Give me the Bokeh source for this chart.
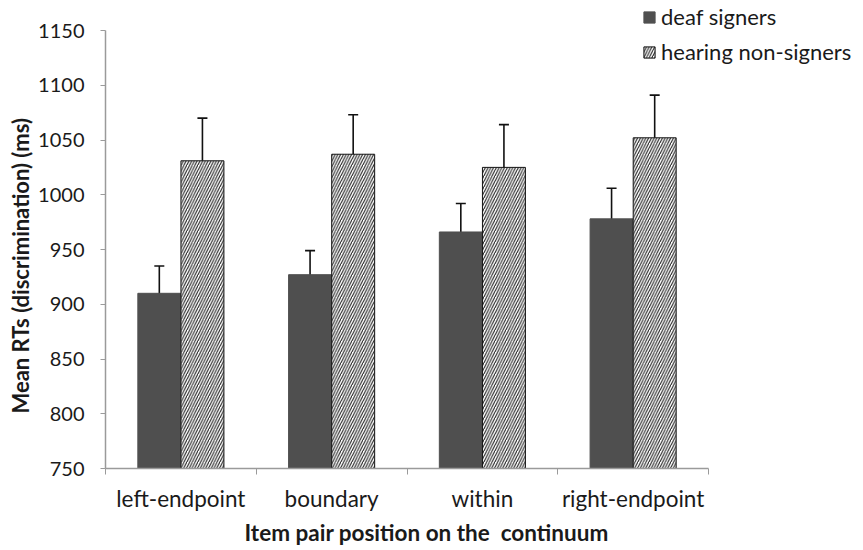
import numpy as np
from bokeh.plotting import figure
from bokeh.models import (ColumnDataSource, Whisker, TeeHead, FixedTicker,
                          Legend, LegendItem, Range1d, Title)
from bokeh.transform import dodge
from bokeh.embed import file_html
from bokeh.resources import INLINE

# ---- data ----
categories = ["left-endpoint", "boundary", "within", "right-endpoint"]
deaf_signers = [910, 927, 966, 978]
deaf_err = [25, 22, 26, 28]
hearing = [1031, 1037, 1025, 1052]
hearing_err = [39, 36, 39, 39]
y_ticks = [750, 800, 850, 900, 950, 1000, 1050, 1100, 1150]
x_title = "Item pair position on the \u00a0continuum"
y_title = "Mean RTs (discrimination) (ms)"

FONT = "Lato"
TXT = "#1a1a1a"
DARK = "#4f4f4f"
AXIS = "#9a9a9a"

n = len(categories)
xc = np.arange(n) + 0.5
d = np.array(deaf_signers, dtype=float)
de = np.array(deaf_err, dtype=float)
h = np.array(hearing, dtype=float)
he = np.array(hearing_err, dtype=float)

src = ColumnDataSource(dict(
    x=xc, deaf=d, deaf_hi=d + de, deaf_lo=d - de,
    hear=h, hear_hi=h + he, hear_lo=h - he,
))

# frame spans to the right/top edges so the legend (drawn in the frame) is not clipped;
# axes are limited to the data area with axis bounds
Y0, Y1 = y_ticks[0], y_ticks[-1]
y_top = Y0 + 468 / (438 / (Y1 - Y0))
x_end = 758 / (603 / n)

p = figure(width=863, height=550, output_backend="svg", toolbar_location=None,
           x_range=Range1d(0, x_end), y_range=Range1d(Y0, y_top),
           min_border_left=105, min_border_right=0,
           min_border_top=0, min_border_bottom=82)
p.outline_line_color = None
p.xgrid.grid_line_color = None
p.ygrid.grid_line_color = None
p.background_fill_color = "white"
p.border_fill_color = "white"

BW = 0.285
OFF = 0.143

r_deaf = p.vbar(x=dodge("x", -OFF), top="deaf", bottom=Y0, width=BW, source=src,
                fill_color=DARK, line_color=DARK)
r_hear = p.vbar(x=dodge("x", OFF), top="hear", bottom=Y0, width=BW, source=src,
                fill_color="white", line_color="#111111", line_width=1,
                hatch_pattern="/", hatch_color="#222222", hatch_scale=5.5,
                hatch_weight=1.1)

for base_off, up, lo in [(-OFF, "deaf_hi", "deaf_lo"), (OFF, "hear_hi", "hear_lo")]:
    w = Whisker(source=src, base=dodge("x", base_off), upper=up, lower=lo,
                line_color="#111111", line_width=1.6,
                upper_head=TeeHead(size=10, line_color="#111111", line_width=1.6),
                lower_head=TeeHead(size=10, line_color="#111111", line_width=1.6))
    p.add_layout(w)

# x axis: labels at centres, ticks between categories (minor ticks)
xa = p.xaxis[0]
xa.bounds = (0, n)
xa.ticker = FixedTicker(ticks=list(xc), minor_ticks=list(range(n + 1)))
xa.major_label_overrides = {float(v): c for v, c in zip(xc, categories)}
xa.major_tick_out = 0
xa.major_tick_in = 0
xa.minor_tick_out = 6
xa.minor_tick_in = 0
xa.minor_tick_line_color = AXIS
xa.axis_line_color = AXIS
xa.axis_line_width = 1.5
xa.major_label_text_font = FONT
xa.major_label_text_font_size = "22.5px"
xa.major_label_text_color = TXT
xa.major_label_standoff = 10

ya = p.yaxis[0]
ya.bounds = (Y0, Y1)
ya.ticker = FixedTicker(ticks=y_ticks)
ya.minor_tick_line_color = None
ya.major_tick_out = 5
ya.major_tick_in = 0
ya.major_tick_line_color = AXIS
ya.axis_line_color = AXIS
ya.axis_line_width = 1.5
ya.major_label_text_font = FONT
ya.major_label_text_font_size = "20px"
ya.major_label_text_color = TXT
ya.major_label_standoff = 16

# axis titles (as Titles so that they can be centred on the data area, not the frame)
xt = Title(text=x_title, align="left", offset=139, standoff=4,
           text_font=FONT, text_font_style="bold", text_font_size="22.5px",
           text_color=TXT)
p.add_layout(xt, "below")
yt = Title(text=y_title, align="left", offset=55, standoff=4,
           text_font=FONT, text_font_style="bold", text_font_size="22px",
           text_color=TXT)
p.add_layout(yt, "left")

legend = Legend(items=[LegendItem(label="deaf signers", renderers=[r_deaf]),
                       LegendItem(label="hearing non-signers", renderers=[r_hear])],
                location=(537, 403), orientation="vertical",
                glyph_width=14, glyph_height=14, label_height=20,
                spacing=8, padding=0, margin=0, label_standoff=5,
                label_text_font=FONT, label_text_font_size="22px",
                label_text_color=TXT, border_line_color=None,
                background_fill_alpha=0)
p.add_layout(legend, "center")

open("out.html", "w").write(file_html(p, INLINE))
